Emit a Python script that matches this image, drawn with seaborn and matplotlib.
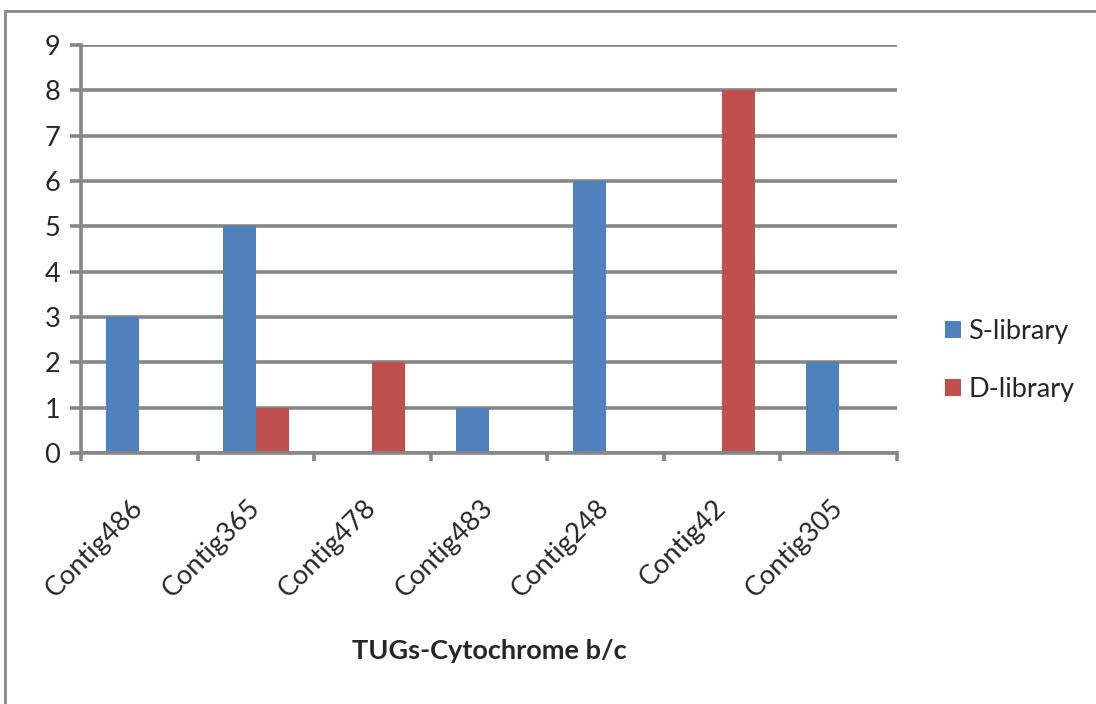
import matplotlib
matplotlib.use("Agg")
import matplotlib.pyplot as plt
import seaborn as sns
import pandas as pd
import numpy as np
from matplotlib.patches import Rectangle

categories = ["Contig486", "Contig365", "Contig478", "Contig483", "Contig248", "Contig42", "Contig305"]
s_library = [3, 5, 0, 1, 6, 0, 2]
d_library = [0, 1, 2, 0, 0, 8, 0]
series_names = ["S-library", "D-library"]
y_ticks = [0, 1, 2, 3, 4, 5, 6, 7, 8, 9]

df = pd.DataFrame({
    "category": categories * 2,
    "value": s_library + d_library,
    "series": [series_names[0]] * len(categories) + [series_names[1]] * len(categories),
})

sns.set_style("white")
plt.rcParams['font.family'] = ['Lato', 'DejaVu Sans']

FS = 19.5
LW = 2.6
grid_col = "#868686"
fig = plt.figure(figsize=(10.96, 7.04), dpi=100)
ax = fig.add_axes([81/1096, 1-453/704, (897-81)/1096, (453-45)/704])

sns.barplot(data=df, x="category", y="value", hue="series", order=categories,
            hue_order=series_names, palette=["#4F81BD", "#C0504D"],
            width=0.566, dodge=True, ax=ax, legend=True, saturation=1, zorder=3,
            linewidth=0, edgecolor="none")

ax.set_xlim(-0.5, len(categories) - 0.5)
ax.set_ylim(0, 9)
ax.set_yticks(y_ticks)
ax.set_yticklabels([str(t) for t in y_ticks], fontsize=FS)
ax.yaxis.grid(True, color=grid_col, linewidth=LW, zorder=0)
ax.set_axisbelow(True)
for sp in ["top", "right"]:
    ax.spines[sp].set_visible(False)
for sp in ["left", "bottom"]:
    ax.spines[sp].set_color(grid_col)
    ax.spines[sp].set_linewidth(LW)
    ax.spines[sp].set_zorder(4)
ax.tick_params(axis="y", length=8, width=LW, color=grid_col, pad=7, left=True)

ax.set_xticks(range(len(categories)))
ax.set_xticklabels(categories, rotation=45, ha="right", va="center",
                   rotation_mode="anchor", fontsize=FS)
ax.tick_params(axis="x", which="major", length=0, pad=37, bottom=False)
ax.set_xticks(np.arange(-0.5, len(categories)), minor=True)
ax.tick_params(axis="x", which="minor", length=6, width=LW, color=grid_col, bottom=True)

ax.set_xlabel("TUGs-Cytochrome b/c", fontsize=FS, fontweight="bold", labelpad=26)
ax.set_ylabel("")

handles, labels = ax.get_legend_handles_labels()
ax.legend(handles, labels, loc="center left", bbox_to_anchor=(1.0588, 0.2267),
          frameon=False, fontsize=FS, handlelength=0.6, handleheight=0.6,
          handletextpad=0.25, labelspacing=1.2, borderpad=0, borderaxespad=0)

fig.patches.append(Rectangle((5/1096, -0.1), 1.2, 1 - 11/704 + 0.1, transform=fig.transFigure,
                             fill=False, edgecolor=grid_col, linewidth=2.0))

fig.savefig("out.png", dpi=100)
